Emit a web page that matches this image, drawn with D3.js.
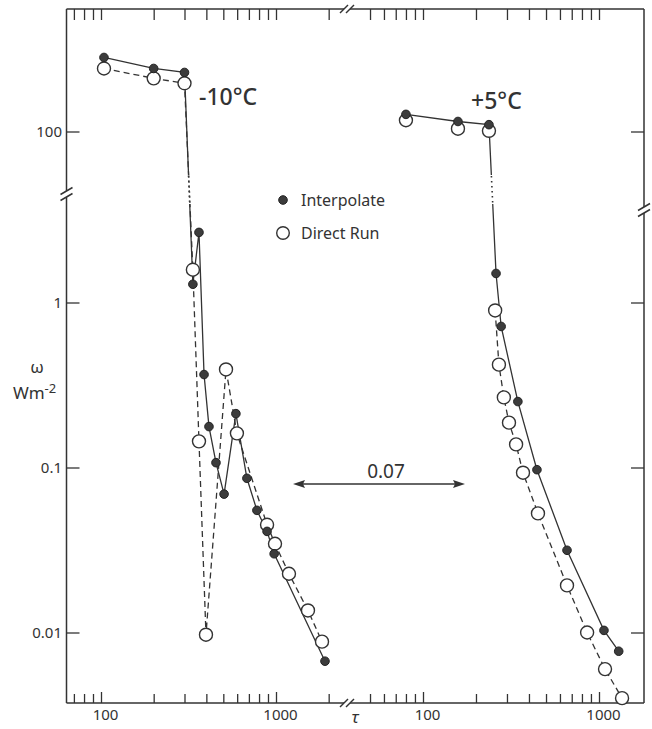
<!DOCTYPE html>
<html>
<head>
<meta charset="utf-8">
<script src="https://cdnjs.cloudflare.com/ajax/libs/d3/7.8.5/d3.min.js"></script>
<style>
body { margin: 0; background: #fff; }
text { font-family: "Noto Sans", "DejaVu Sans", sans-serif; fill: #333; }
</style>
</head>
<body>
<script>
// [tau, omega (W m-2)]
var coldInterp = [[104, 281], [200, 241], [300, 228], [335, 1.29], [363, 2.66], [388, 0.366], [414, 0.177],
    [454, 0.107], [505, 0.069], [590, 0.212], [682, 0.086], [778, 0.055], [889, 0.041], [976, 0.030], [1905, 0.0067]];
var coldDirect = [[104, 241], [200, 210], [300, 196], [335, 1.58], [363, 0.144], [398, 0.0097], [518, 0.393],
    [598, 0.161], [889, 0.045], [987, 0.0345], [1186, 0.0227], [1523, 0.0136], [1832, 0.0088]];
var warmInterp = [[80, 127], [158, 115], [237, 110], [260, 1.5], [278, 0.716], [346, 0.251], [444, 0.097],
    [658, 0.0315], [1067, 0.0103], [1294, 0.0077]];
var warmDirectTop = [[80, 117], [158, 104], [237, 101]];   // not joined in the figure
var warmDirect = [[257, 0.895], [270, 0.42], [288, 0.266], [308, 0.187], [338, 0.138], [370, 0.093],
    [450, 0.0527], [658, 0.0193], [856, 0.010], [1082, 0.006], [1352, 0.004]];

var ticksColdX = [70, 80, 90, 100, 200, 300, 400, 500, 600, 700, 800, 900, 1000, 2000];
var ticksWarmX = [50, 60, 70, 80, 90, 100, 200, 300, 400, 500, 600, 700, 800, 900, 1000];
var labelsX = [100, 1000];
var ticksUpY = [100];
var ticksLoY = [1, 0.1, 0.01];
var panelNames = ["-10°C", "+5°C"];
var legendNames = ["Interpolate", "Direct Run"];
var gapValue = "0.07";

(function() {
    var W = 652, H = 729,
        L = 66.5, R = 644, T = 9, B = 703, brk = 347,
        ink = "#333";

    var xCold = d3.scaleLog().domain([100, 1000]).range([101, 276]),
        xWarm = d3.scaleLog().domain([100, 1000]).range([423, 599]),
        yUp = d3.scaleLog().domain([100, 1000]).range([131.5, -33.5]),
        yLo = d3.scaleLog().domain([1, 0.01]).range([302.5, 632.5]);

    var y = function(v) { return v > 20 ? yUp(v) : yLo(v); };

    var svg = d3.select("body").append("svg")
        .attr("width", W)
        .attr("height", H);

    var defs = svg.append("defs");
    var cs = defs.append("clipPath").attr("id", "solid");
    cs.append("rect").attr("x", 0).attr("y", 0).attr("width", W).attr("height", 175);
    cs.append("rect").attr("x", 0).attr("y", 204).attr("width", W).attr("height", H - 204);
    defs.append("clipPath").attr("id", "dots")
        .append("rect").attr("x", 0).attr("y", 175).attr("width", W).attr("height", 29);

    // axes
    var fmtX = function(d) { return labelsX.indexOf(d) >= 0 ? d : ""; };
    function xAxes(sc, ticks) {
        var gb = svg.append("g").attr("transform", "translate(0," + B + ")")
            .call(d3.axisBottom(sc).tickValues(ticks).tickSize(-9).tickPadding(6).tickFormat(fmtX));
        gb.selectAll(".tick line").attr("y2", function(d) { return labelsX.indexOf(d) >= 0 ? -11 : -9; });
        gb.selectAll(".tick text").attr("dx", 4);
        var gt = svg.append("g").attr("transform", "translate(0," + T + ")")
            .call(d3.axisTop(sc).tickValues(ticks).tickSize(-11).tickFormat(""));
        [gb, gt].forEach(function(g) {
            g.select(".domain").remove();
            g.attr("font-size", 15).attr("font-family", null).style("color", ink);
            g.selectAll(".tick line").attr("stroke-width", 1.3);
        });
    }
    xAxes(xCold, ticksColdX);
    xAxes(xWarm, ticksWarmX);

    function yAxes(sc, ticks) {
        var gl = svg.append("g").attr("transform", "translate(" + L + ",0)")
            .call(d3.axisLeft(sc).tickValues(ticks).tickSize(-13).tickPadding(4.5)
                .tickFormat(function(d) { return String(d); }));
        var gr = svg.append("g").attr("transform", "translate(" + R + ",0)")
            .call(d3.axisRight(sc).tickValues(ticks).tickSize(-13).tickFormat(""));
        [gl, gr].forEach(function(g) {
            g.select(".domain").remove();
            g.attr("font-size", 15).attr("font-family", null).style("color", ink);
            g.selectAll(".tick line").attr("stroke-width", 1.3);
        });
    }
    yAxes(yUp, ticksUpY);
    yAxes(yLo, ticksLoY);

    // frame with breaks
    var frame = svg.append("g").attr("stroke", ink).attr("stroke-width", 1.5).attr("fill", "none");
    var segs = [
        [[L, T], [brk - 3, T]], [[brk + 3, T], [R, T]],
        [[L, B], [brk - 3, B]], [[brk + 3, B], [R, B]],
        [[L, T], [L, 191]], [[L, 197], [L, B]],
        [[R, T], [R, 207]], [[R, 213], [R, B]]
    ];
    // break marks
    [-3, 3].forEach(function(o) {
        segs.push([[brk + o - 4, T + 4], [brk + o + 4, T - 4]]);
        segs.push([[brk + o - 4, B + 4], [brk + o + 4, B - 4]]);
        segs.push([[L - 6, 194 + o + 3.5], [L + 6, 194 + o - 3.5]]);
        segs.push([[R - 6, 210 + o + 3.5], [R + 6, 210 + o - 3.5]]);
    });
    frame.selectAll("path").data(segs).enter().append("path")
        .attr("d", d3.line());

    // series
    function series(sc, data, dash) {
        var line = d3.line()
            .x(function(d) { return sc(d[0]); })
            .y(function(d) { return y(d[1]); });
        svg.append("path").datum(data)
            .attr("d", line)
            .attr("clip-path", "url(#solid)")
            .attr("fill", "none").attr("stroke", ink).attr("stroke-width", 1.3)
            .attr("stroke-dasharray", dash ? "6,4" : null);
        svg.append("path").datum(data)
            .attr("d", line)
            .attr("clip-path", "url(#dots)")
            .attr("fill", "none").attr("stroke", ink).attr("stroke-width", 1.6)
            .attr("stroke-dasharray", "1.5,3.5");
    }
    series(xCold, coldInterp, false);
    series(xCold, coldDirect, true);
    series(xWarm, warmInterp, false);
    series(xWarm, warmDirect, true);

    function opens(sc, data) {
        svg.append("g").selectAll("circle").data(data).enter().append("circle")
            .attr("cx", function(d) { return sc(d[0]); })
            .attr("cy", function(d) { return y(d[1]); })
            .attr("r", 6.5)
            .attr("fill", "#fff").attr("stroke", ink).attr("stroke-width", 1.4);
    }
    function dots(sc, data) {
        svg.append("g").selectAll("circle").data(data).enter().append("circle")
            .attr("cx", function(d) { return sc(d[0]); })
            .attr("cy", function(d) { return y(d[1]); })
            .attr("r", 4.3)
            .attr("fill", "#3c3c3c").attr("stroke", "#222").attr("stroke-width", 1);
    }
    opens(xCold, coldDirect);
    opens(xWarm, warmDirect);
    opens(xWarm, warmDirectTop);
    dots(xCold, coldInterp);
    dots(xWarm, warmInterp);

    // panel labels
    svg.append("text").attr("x", 199).attr("y", 105).attr("font-size", 23).attr("font-weight", 500)
        .text(panelNames[0]);
    svg.append("text").attr("x", 471).attr("y", 109).attr("font-size", 23).attr("font-weight", 500)
        .text(panelNames[1]);

    // legend
    svg.append("circle").attr("cx", 283).attr("cy", 200).attr("r", 4.3)
        .attr("fill", "#3c3c3c").attr("stroke", "#222");
    svg.append("circle").attr("cx", 283).attr("cy", 233).attr("r", 6.3)
        .attr("fill", "#fff").attr("stroke", ink).attr("stroke-width", 1.4);
    svg.append("text").attr("x", 301).attr("y", 206).attr("font-size", 16).text(legendNames[0]);
    svg.append("text").attr("x", 301).attr("y", 239).attr("font-size", 16).text(legendNames[1]);

    // double arrow
    var ay = 484;
    svg.append("line").attr("x1", 300).attr("x2", 458).attr("y1", ay).attr("y2", ay)
        .attr("stroke", ink).attr("stroke-width", 1.4);
    svg.append("path").attr("d", "M293," + ay + "L305," + (ay - 4) + "L303," + ay + "L305," + (ay + 4) + "Z")
        .attr("fill", ink);
    svg.append("path").attr("d", "M465," + ay + "L453," + (ay - 4) + "L455," + ay + "L453," + (ay + 4) + "Z")
        .attr("fill", ink);
    svg.append("text").attr("x", 386).attr("y", 478).attr("text-anchor", "middle").attr("font-size", 19)
        .text(gapValue);

    // axis titles
    svg.append("text").attr("x", 37).attr("y", 373).attr("text-anchor", "middle").attr("font-size", 17)
        .text("ω");
    var wt = svg.append("text").attr("x", 13).attr("y", 399).attr("font-size", 17);
    wt.append("tspan").text("Wm");
    wt.append("tspan").attr("dy", -6).attr("font-size", 13).text("-2");
    svg.append("text").attr("x", 355).attr("y", 723).attr("text-anchor", "middle").attr("font-size", 17)
        .attr("font-style", "italic").text("τ");
})();
</script>
</body>
</html>
